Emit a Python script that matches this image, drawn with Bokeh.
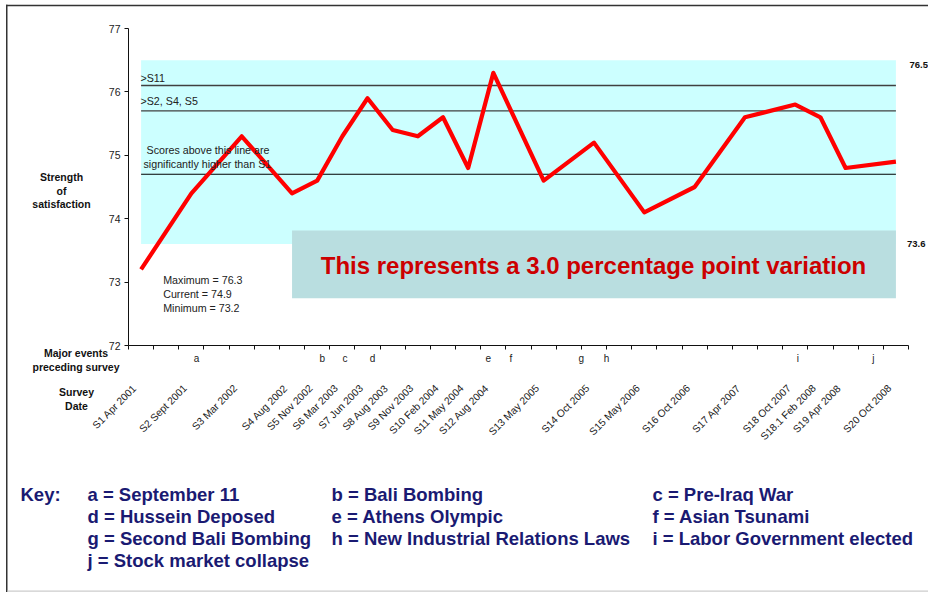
import math
from bokeh.plotting import figure
from bokeh.models import Range1d, FixedTicker, Label, BoxAnnotation
from bokeh.embed import file_html
from bokeh.resources import INLINE

# ---------------- data ----------------
survey_labels = ["S1 Apr 2001", "S2 Sept 2001", "S3 Mar 2002", "S4 Aug 2002", "S5 Nov 2002",
                 "S6 Mar 2003", "S7 Jun 2003", "S8 Aug 2003", "S9 Nov 2003", "S10 Feb 2004",
                 "S11 May 2004", "S12 Aug 2004", "S13 May 2005", "S14 Oct 2005", "S15 May 2006",
                 "S16 Oct 2006", "S17 Apr 2007", "S18 Oct 2007", "S18.1 Feb 2008", "S19 Apr 2008",
                 "S20 Oct 2008"]
survey_slot = [0, 2, 4, 6, 7, 8, 9, 10, 11, 12, 13, 14, 16, 18, 20, 22, 24, 26, 27, 28, 30]
satisfaction = [73.2, 74.4, 75.3, 74.4, 74.6, 75.3, 75.9, 75.4, 75.3, 75.6, 74.8,
                76.3, 74.6, 75.2, 74.1, 74.5, 75.6, 75.8, 75.6, 74.8, 74.9]
n_slots = 31
y_ticks = [72, 73, 74, 75, 76, 77]
band_top = 76.5
band_bottom = 73.6
thresholds = [76.1, 75.7, 74.7]
threshold_texts = [">S11", ">S2, S4, S5"]
event_letters = ["a", "b", "c", "d", "e", "f", "g", "h", "i", "j"]
event_slot = [2.2, 7.2, 8.1, 9.2, 13.8, 14.7, 17.5, 18.5, 26.1, 29.1]
key_items = [
    ["a = September 11", "b = Bali Bombing", "c = Pre-Iraq War"],
    ["d = Hussein Deposed", "e = Athens Olympic", "f = Asian Tsunami"],
    ["g = Second Bali Bombing", "h = New Industrial Relations Laws", "i = Labor Government elected"],
    ["j = Stock market collapse"],
]

# ---------------- layout ----------------
# The frame fills the whole canvas; the plotting area (axes) is placed inside it
W, H = 928, 592
AX_L, AX_R, AX_T, AX_B = 128, 908, 28, 345      # pixel box of the axes
x_lo, x_hi = -0.5, n_slots - 0.5
y_lo, y_hi = y_ticks[0], y_ticks[-1]
ppx = (AX_R - AX_L) / (x_hi - x_lo)
ppy = (AX_B - AX_T) / (y_hi - y_lo)
x_start = x_lo - AX_L / ppx
x_end = x_hi + (W - AX_R) / ppx
y_end = y_hi + AX_T / ppy
y_start = y_lo - (H - AX_B) / ppy


def dx(X):
    return x_start + X / ppx


def dy(Y):
    return y_end - Y / ppy


FONT = "Liberation Sans"

p = figure(width=W, height=H, x_range=Range1d(x_start, x_end), y_range=Range1d(y_start, y_end),
           output_backend="svg", toolbar_location=None,
           min_border_left=0, min_border_right=0, min_border_top=0, min_border_bottom=0,
           outline_line_color=None, background_fill_color="white", border_fill_color="white")
p.grid.visible = False

# axes, pinned to the plotting area
p.yaxis.fixed_location = x_lo
p.yaxis.bounds = (y_lo, y_hi)
p.yaxis.ticker = FixedTicker(ticks=y_ticks)
p.yaxis.major_tick_in = 0
p.yaxis.major_tick_out = 4
p.yaxis.minor_tick_line_color = None
p.yaxis.major_label_text_font = FONT
p.yaxis.major_label_text_font_size = "10.5px"
p.yaxis.major_label_text_color = "#222222"
p.yaxis.major_label_standoff = 4
p.yaxis.axis_line_color = "#111111"
p.yaxis.major_tick_line_color = "#111111"

label_pos = [round(s - 0.25, 2) for s in survey_slot]
p.xaxis.fixed_location = y_lo
p.xaxis.bounds = (x_lo, x_hi)
p.xaxis.ticker = FixedTicker(ticks=label_pos,
                             minor_ticks=[i - 0.5 for i in range(n_slots + 1)])
p.xaxis.major_label_overrides = {s: lab for s, lab in zip(label_pos, survey_labels)}
p.xaxis.major_label_orientation = math.pi / 4
p.xaxis.major_tick_line_color = None
p.xaxis.major_tick_in = 0
p.xaxis.major_tick_out = 0
p.xaxis.minor_tick_in = 0
p.xaxis.minor_tick_out = 4
p.xaxis.minor_tick_line_color = "#111111"
p.xaxis.axis_line_color = "#111111"
p.xaxis.major_label_standoff = 37
p.xaxis.major_label_text_font = FONT
p.xaxis.major_label_text_font_size = "10.3px"
p.xaxis.major_label_text_color = "#1a1a1a"

# cyan significance band
first, last = survey_slot[0], survey_slot[-1]
p.quad(left=[first], right=[last], bottom=[band_bottom], top=[band_top],
       fill_color="#CCFFFF", line_color=None)
# grey-blue text box
p.quad(left=[survey_slot[3]], right=[last], bottom=[dy(297.7)], top=[dy(230)],
       fill_color="#B9DEE0", line_color=None)

# threshold lines
th_colors = ["#404040", "#404040", "#000000"]
th_widths = [1.4, 1.4, 1.1]
for t, c, w in zip(thresholds, th_colors, th_widths):
    p.line([first, last], [t, t], line_color=c, line_width=w)

# main series
p.line(survey_slot, satisfaction, line_color="#FF0000", line_width=4.2, line_join="round")


def lab(X, Y, text, size="10.7px", bold=False, color="#222222", align="left", baseline="middle"):
    p.add_layout(Label(x=dx(X), y=dy(Y), text=text, text_font=FONT, text_font_size=size,
                       text_font_style="bold" if bold else "normal", text_color=color,
                       text_align=align, text_baseline=baseline))


# in-plot texts
lab(140, 77.5, threshold_texts[0])
lab(140, 100, threshold_texts[1])
lab(146, 149.5, "Scores above this line are")
lab(143, 163.5, "significantly higher than S1")
lab(162.7, 279.5, "Maximum = %.1f" % max(satisfaction))
lab(162.7, 293.5, "Current = %.1f" % satisfaction[-1])
lab(162.7, 307, "Minimum = %.1f" % min(satisfaction))
lab(593, 265, "This represents a 3.0 percentage point variation", size="24px", bold=True,
    color="#CC0000", align="center")

# right band labels
lab(909, 64, "%.1f" % band_top, size="9.5px", bold=True, color="#111111")
lab(906.5, 243.5, "%.1f" % band_bottom, size="9.5px", bold=True, color="#111111")

# axis titles
for Y, t in zip([176, 190, 203.5], ["Strength", "of", "satisfaction"]):
    lab(61, Y, t, size="10.5px", bold=True, color="#111111", align="center")
lab(75.5, 352, "Major events", size="10.5px", bold=True, color="#111111", align="center")
lab(75.5, 366, "preceding survey", size="10.5px", bold=True, color="#111111", align="center")
lab(76, 391.5, "Survey", size="10.5px", bold=True, color="#111111", align="center")
lab(76, 405, "Date", size="10.5px", bold=True, color="#111111", align="center")

# event letters
for s, e in zip(event_slot, event_letters):
    p.add_layout(Label(x=s, y=dy(357.5), text=e, text_font=FONT, text_font_size="10px",
                       text_color="#222222", text_align="center", text_baseline="middle"))

# key
KEY_COLOR = "#1a1a72"
lab(20, 493.5, "Key:", size="18.5px", bold=True, color=KEY_COLOR)
col_x = [87, 331, 652]
row_y = [493.5, 516, 538, 560]
for r, row in enumerate(key_items):
    for c, item in enumerate(row):
        lab(col_x[c], row_y[r], item, size="18.5px", bold=True, color=KEY_COLOR)

# page frame lines (top and left) and faint bottom rule
p.add_layout(BoxAnnotation(left=dx(5.5), right=dx(928), top=dy(4.3), bottom=dy(5.8),
                           fill_color="#333333", fill_alpha=1, line_color=None))
p.add_layout(BoxAnnotation(left=dx(5.5), right=dx(7), top=dy(4.3), bottom=dy(592),
                           fill_color="#333333", fill_alpha=1, line_color=None))
p.add_layout(BoxAnnotation(left=dx(7), right=dx(928), top=dy(590), bottom=dy(591.2),
                           fill_color="#CCCCCC", fill_alpha=1, line_color=None))

with open("out.html", "w") as f:
    f.write(file_html(p, INLINE))
